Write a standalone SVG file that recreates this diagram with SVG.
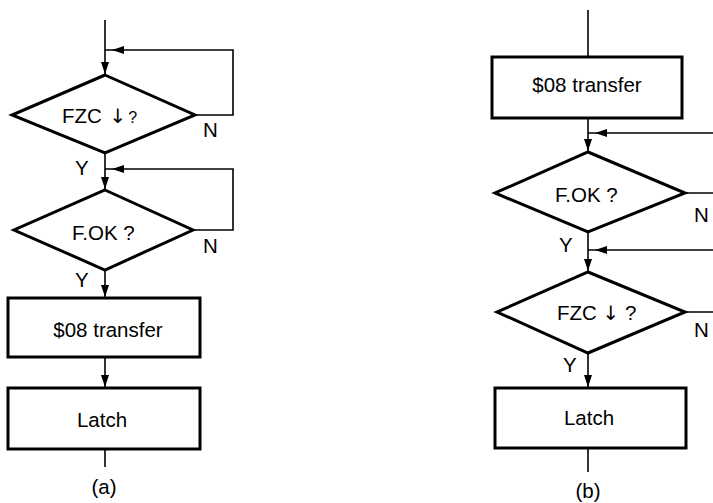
<svg xmlns="http://www.w3.org/2000/svg" width="713" height="503" viewBox="0 0 713 503">
<style>
.sh{fill:#fff;stroke:#000;stroke-width:3;stroke-linejoin:miter}
.cn{fill:none;stroke:#000;stroke-width:1.6}
text{font-family:"Liberation Sans",Arial,sans-serif;font-size:20.5px;fill:#000}
.c{text-anchor:middle}
.sm{font-size:16px}
.ar{font-family:"DejaVu Sans",sans-serif;font-size:20px}
</style>
<defs>
<marker id="arr" viewBox="0 0 8 12" markerWidth="8" markerHeight="12" refX="4" refY="12" markerUnits="userSpaceOnUse" orient="0">
<path d="M0,0 L8,0 L4,12 z" fill="#000"/>
</marker>
<marker id="arrL" viewBox="0 0 30 8" markerWidth="30" markerHeight="8" refX="0" refY="4" markerUnits="userSpaceOnUse" orient="0">
<path d="M7,4 L19,0 L19,8 z" fill="#000"/>
</marker>
</defs>
<rect width="713" height="503" fill="#fff"/>
<g id="connectors">
<!-- (a) -->
<path class="cn" d="M105,20 V74" marker-end="url(#arr)"/>
<path class="cn" d="M195,115 H233 V50 H105" marker-end="url(#arrL)"/>
<path class="cn" d="M105,153 V189" marker-end="url(#arr)"/>
<path class="cn" d="M193,230 H233 V169 H105" marker-end="url(#arrL)"/>
<path class="cn" d="M105,270 V297" marker-end="url(#arr)"/>
<path class="cn" d="M105,357 V387" marker-end="url(#arr)"/>
<path class="cn" d="M105,449 V467"/>
<!-- (b) -->
<path class="cn" d="M588,10 V57"/>
<path class="cn" d="M588,118 V151" marker-end="url(#arr)"/>
<path class="cn" d="M720,133 H588" marker-end="url(#arrL)"/>
<path class="cn" d="M685,193 H720"/>
<path class="cn" d="M588,232 V271" marker-end="url(#arr)"/>
<path class="cn" d="M720,250 H588" marker-end="url(#arrL)"/>
<path class="cn" d="M685,312 H720"/>
<path class="cn" d="M588,353 V387" marker-end="url(#arr)"/>
<path class="cn" d="M588,448 V472"/>
</g>
<g id="a_fzc">
<polygon class="sh" points="105,75 195,115 105,153 12,115"/>
<text x="62" y="123">FZC <tspan class="ar" dx="2">↓</tspan><tspan class="sm" dx="2">?</tspan></text>
</g>
<g id="a_fok">
<polygon class="sh" points="105,190 193,230 105,270 14,230"/>
<text x="72" y="240">F.OK ?</text>
</g>
<g id="a_transfer">
<rect class="sh" x="8" y="298" width="192" height="59"/>
<text class="c" x="108" y="337">$08 transfer</text>
</g>
<g id="a_latch">
<rect class="sh" x="8" y="388" width="192" height="61"/>
<text class="c" x="102" y="427">Latch</text>
</g>
<g id="a_labels">
<text x="203" y="137">N</text>
<text x="203" y="253">N</text>
<text x="75" y="175">Y</text>
<text x="75" y="287">Y</text>
<text class="c" x="104" y="494">(a)</text>
</g>
<g id="b_transfer">
<rect class="sh" x="492" y="57" width="190" height="61"/>
<text class="c" x="587" y="92">$08 transfer</text>
</g>
<g id="b_fok">
<polygon class="sh" points="588,152 685,193 588,232 495,193"/>
<text x="555" y="202">F.OK ?</text>
</g>
<g id="b_fzc">
<polygon class="sh" points="588,272 685,312 588,353 497,312"/>
<text x="557" y="320">FZC <tspan class="ar">↓</tspan> <tspan>?</tspan></text>
</g>
<g id="b_latch">
<rect class="sh" x="495" y="388" width="191" height="60"/>
<text class="c" x="589" y="425">Latch</text>
</g>
<g id="b_labels">
<text x="694" y="222">N</text>
<text x="694" y="337">N</text>
<text x="559" y="252">Y</text>
<text x="563" y="372">Y</text>
<text class="c" x="588" y="498">(b)</text>
</g>
</svg>
